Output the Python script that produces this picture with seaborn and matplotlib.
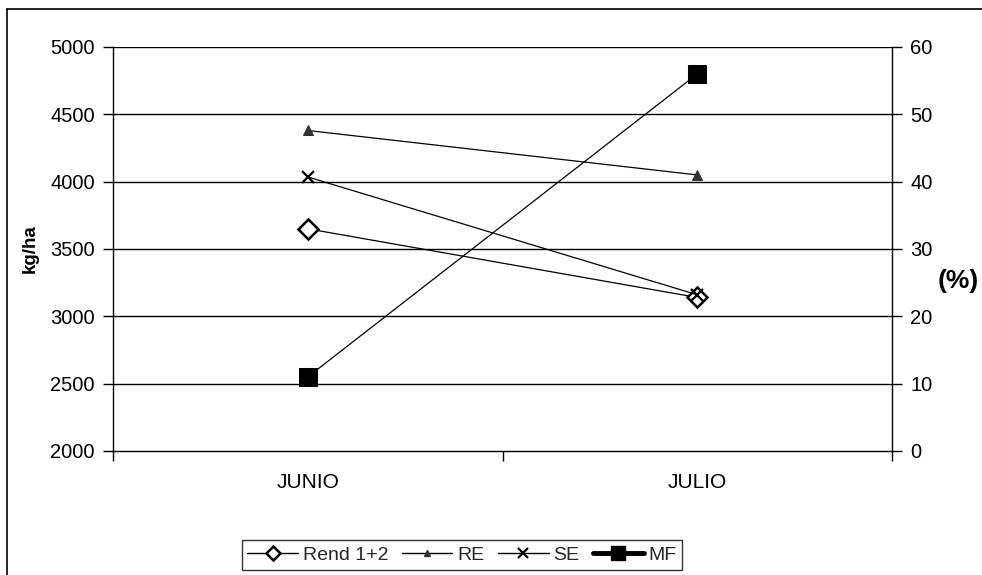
import matplotlib
matplotlib.use("Agg")
import matplotlib.pyplot as plt
from matplotlib.lines import Line2D
import seaborn as sns
import pandas as pd

months = ["JUNIO", "JULIO"]
rend = [3650, 3140]
re_vals = [4380, 4050]
se_vals = [4035, 3160]
mf_vals = [11, 56]

sns.set_theme(style="white")
plt.rcParams["font.family"] = ["Liberation Sans", "DejaVu Sans"]

fig = plt.figure(figsize=(9.82, 5.75), dpi=100)
ax = fig.add_axes([113/982, 1-451/575, (892-113)/982, (451-47)/575])
ax2 = ax.twinx()

xpos = [0.5, 1.5]
df = pd.DataFrame({"x": xpos, "Rend 1+2": rend, "RE": re_vals, "SE": se_vals, "MF": mf_vals})

sns.lineplot(data=df, x="x", y="Rend 1+2", ax=ax, color="black", lw=0.9, marker="D",
             markersize=10, markerfacecolor="white", markeredgecolor="black", markeredgewidth=1.8)
sns.lineplot(data=df, x="x", y="RE", ax=ax, color="black", lw=0.9, marker="^",
             markersize=7, markerfacecolor="#333333", markeredgecolor="#333333")
sns.lineplot(data=df, x="x", y="SE", ax=ax, color="black", lw=0.9, marker="x",
             markersize=9, markeredgewidth=1.6, markeredgecolor="black")
sns.lineplot(data=df, x="x", y="MF", ax=ax2, color="black", lw=0.9, marker="s",
             markersize=13, markerfacecolor="black", markeredgecolor="black")

ax.set_xlim(0, 2)
ax.set_ylim(2000, 5000)
ax2.set_ylim(0, 60)
ax.set_yticks(range(2000, 5001, 500))
ax2.set_yticks(range(0, 61, 10))
ax.set_xticks([0, 1, 2])
ax.set_xticklabels([])
ax.set_xticks(xpos, minor=True)
ax.set_xticklabels(months, minor=True)
ax.tick_params(axis="x", which="major", direction="out", length=7, width=1, color="black", bottom=True)
ax.tick_params(axis="x", which="minor", length=0, labelsize=15, pad=16, colors="black")
ax.tick_params(axis="y", direction="out", length=7, width=1, color="black", left=True, labelsize=14.5, pad=6, labelcolor="black")
ax2.tick_params(axis="y", direction="out", length=7, width=1, color="black", right=True, labelsize=14.5, pad=6, labelcolor="black")

ax.grid(False)
for yv in range(2500, 5001, 500):
    ax.axhline(yv, color="black", lw=1, zorder=0)

for a in (ax, ax2):
    for s in a.spines.values():
        s.set_visible(False)
ax.spines["left"].set_visible(True)
ax.spines["bottom"].set_visible(True)
ax2.spines["right"].set_visible(True)
for s in (ax.spines["left"], ax.spines["bottom"], ax2.spines["right"]):
    s.set_color("black")
    s.set_linewidth(1)

ax.set_xlabel("")
ax.set_ylabel("kg/ha", fontsize=13.5, fontweight="bold", color="black", labelpad=8)
ax2.set_ylabel("")
fig.text(938/982, 1-281/575, "(%)", fontsize=19, fontweight="bold", ha="left", va="center", color="black")

# outer frame (left and top edges visible)
fig.add_artist(Line2D([7/982, 7/982], [0, 1-9/575], color="black", lw=1.2, transform=fig.transFigure))
fig.add_artist(Line2D([7/982, 1], [1-9/575, 1-9/575], color="black", lw=1.2, transform=fig.transFigure))

handles = [
    Line2D([], [], color="black", lw=1, marker="D", markersize=7, markerfacecolor="white", markeredgewidth=1.8),
    Line2D([], [], color="black", lw=1, marker="^", markersize=5, markerfacecolor="#333333", markeredgecolor="#333333"),
    Line2D([], [], color="black", lw=1, marker="x", markersize=7, markeredgewidth=1.6),
    Line2D([], [], color="black", lw=3.5, marker="s", markersize=10),
]
leg = fig.legend(handles, ["Rend 1+2", "RE", "SE", "MF"], loc="center", bbox_to_anchor=(462/982, 1-555/575),
                 ncol=4, frameon=True, fancybox=False, fontsize=14, handlelength=2.6, handletextpad=0.25,
                 columnspacing=0.7, borderpad=0.3, borderaxespad=0, edgecolor="black")
leg.get_frame().set_linewidth(1)

fig.savefig("out.png", dpi=100)
